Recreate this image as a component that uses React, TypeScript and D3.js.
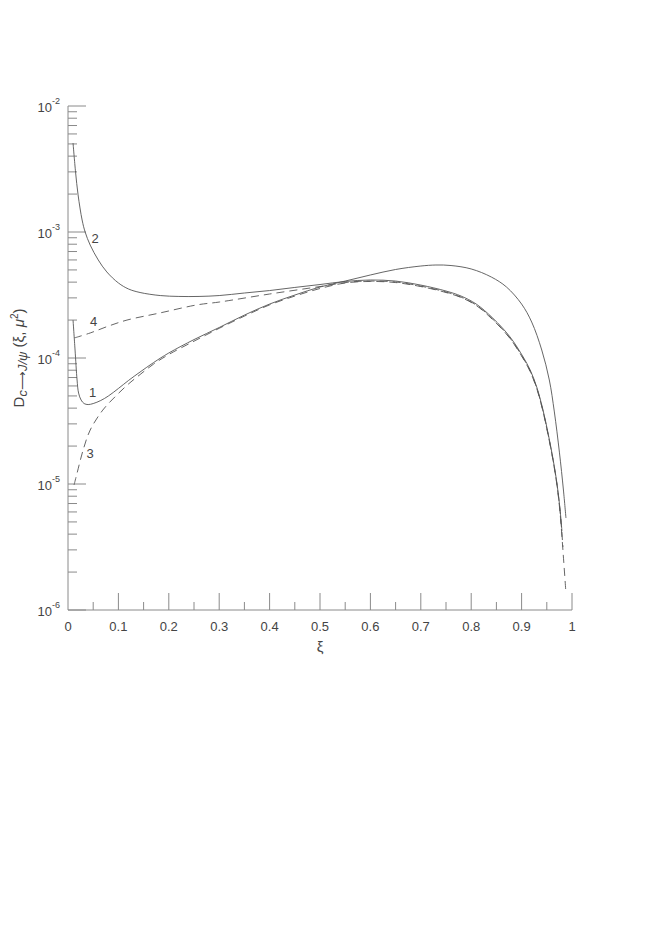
import React from "react";
import * as d3 from "d3";

const xiTicksMajor = [0.1, 0.2, 0.3, 0.4, 0.5, 0.6, 0.7, 0.8, 0.9, 1.0];
const xiTicksMinor = [0.05, 0.15, 0.25, 0.35, 0.45, 0.55, 0.65, 0.75, 0.85, 0.95];
const xTickLabels = ["0", "0.1", "0.2", "0.3", "0.4", "0.5", "0.6", "0.7", "0.8", "0.9", "1"];
const yDecades = [-6, -5, -4, -3, -2];

const curve1Xi = [0.01, 0.014, 0.018, 0.021, 0.026, 0.032, 0.04, 0.05, 0.065, 0.08, 0.1, 0.12, 0.143, 0.17, 0.2, 0.25, 0.3, 0.35, 0.4, 0.45, 0.5, 0.55, 0.6, 0.65, 0.7, 0.73, 0.76, 0.8, 0.84, 0.87, 0.9, 0.92, 0.94, 0.955, 0.965, 0.975, 0.983, 0.988];
const curve1Val = [2.0e-4, 1.157e-4, 6.69e-5, 5.27e-5, 4.64e-5, 4.35e-5, 4.27e-5, 4.35e-5, 4.6e-5, 4.99e-5, 5.73e-5, 6.63e-5, 7.74e-5, 9.21e-5, 1.096e-4, 1.40e-4, 1.746e-4, 2.19e-4, 2.68e-4, 3.16e-4, 3.66e-4, 4.08e-4, 4.56e-4, 5.04e-4, 5.37e-4, 5.47e-4, 5.42e-4, 5.09e-4, 4.39e-4, 3.66e-4, 2.68e-4, 1.93e-4, 1.157e-4, 6.69e-5, 3.73e-5, 1.79e-5, 8.96e-6, 5.37e-6];

const curve2Xi = [0.01, 0.015, 0.02, 0.028, 0.034, 0.044, 0.06, 0.077, 0.1, 0.12, 0.143, 0.183, 0.22, 0.26, 0.3, 0.35, 0.4, 0.45, 0.5, 0.55, 0.6, 0.65, 0.7, 0.75, 0.78, 0.81, 0.843, 0.877, 0.903, 0.917, 0.93, 0.9425, 0.952, 0.962, 0.97, 0.976, 0.98];
const curve2Val = [5.08e-3, 2.99e-3, 1.97e-3, 1.245e-3, 1.0e-3, 7.88e-4, 6.0e-4, 4.82e-4, 3.94e-4, 3.53e-4, 3.31e-4, 3.13e-4, 3.08e-4, 3.08e-4, 3.13e-4, 3.28e-4, 3.43e-4, 3.63e-4, 3.83e-4, 4.05e-4, 4.16e-4, 4.08e-4, 3.79e-4, 3.4e-4, 3.1e-4, 2.68e-4, 2.07e-4, 1.47e-4, 1.02e-4, 8.03e-5, 5.89e-5, 3.86e-5, 2.59e-5, 1.61e-5, 1.02e-5, 6.45e-6, 4.24e-6];

const curve3Xi = [0.012, 0.018, 0.03, 0.044, 0.069, 0.097, 0.12, 0.143, 0.17, 0.2, 0.25, 0.3, 0.35, 0.4, 0.45, 0.5, 0.55, 0.6, 0.65, 0.7, 0.75, 0.78, 0.81, 0.843, 0.877, 0.903, 0.917, 0.93, 0.9425, 0.952, 0.962, 0.97, 0.976, 0.982, 0.988];
const curve3Val = [9.82e-6, 1.22e-5, 1.86e-5, 2.68e-5, 3.86e-5, 5.09e-5, 6.22e-5, 7.39e-5, 8.96e-5, 1.066e-4, 1.36e-4, 1.72e-4, 2.15e-4, 2.64e-4, 3.1e-4, 3.56e-4, 3.94e-4, 4.05e-4, 3.97e-4, 3.69e-4, 3.31e-4, 3.02e-4, 2.61e-4, 2.01e-4, 1.43e-4, 9.9e-5, 7.8e-5, 5.73e-5, 3.76e-5, 2.52e-5, 1.57e-5, 9.9e-6, 6.1e-6, 2.98e-6, 1.36e-6];

const curve4Xi = [0.012, 0.044, 0.08, 0.117, 0.183, 0.256, 0.3, 0.4, 0.5, 0.56, 0.6, 0.65, 0.7, 0.75, 0.78, 0.81, 0.843, 0.877, 0.903, 0.917, 0.93, 0.9425, 0.952, 0.962, 0.97, 0.976, 0.982];
const curve4Val = [1.44e-4, 1.58e-4, 1.79e-4, 2.0e-4, 2.28e-4, 2.64e-4, 2.78e-4, 3.22e-4, 3.69e-4, 4.01e-4, 4.08e-4, 4.01e-4, 3.72e-4, 3.34e-4, 3.04e-4, 2.63e-4, 2.03e-4, 1.44e-4, 1.0e-4, 7.9e-5, 5.78e-5, 3.79e-5, 2.54e-5, 1.58e-5, 1.0e-5, 6.3e-6, 3.16e-6];

const curveLabels = [
  { text: "1", xi: 0.0486, v: 4.9e-5 },
  { text: "2", xi: 0.0536, v: 8.18e-4 },
  { text: "3", xi: 0.0437, v: 1.61e-5 },
  { text: "4", xi: 0.0506, v: 1.79e-4 },
];

const FONT = "'Liberation Sans', Arial, Helvetica, sans-serif";
const AXIS = "#8a8a8a";
const LINE = "#555";
const TEXT = "#444";

export default function App() {
  const x = d3.scaleLinear().domain([0, 1]).range([68, 572]);
  const y = d3.scaleLog().domain([1e-6, 1e-2]).range([610, 106]);

  const line = d3
    .line<[number, number]>()
    .x((d) => x(d[0]))
    .y((d) => y(d[1]))
    .curve(d3.curveCatmullRom.alpha(0.5));

  const mk = (xs: number[], vs: number[]) => line(xs.map((v, i) => [v, vs[i]] as [number, number])) || "";

  const minorY: number[] = [];
  yDecades.slice(0, -1).forEach((e) => {
    for (let m = 2; m <= 9; m++) minorY.push(m * Math.pow(10, e));
  });

  return (
    <svg width={664} height={951} style={{ position: "absolute", left: 0, top: 0, background: "#fff" }} fontFamily={FONT}>
      <line x1={x(0)} y1={y(1e-6)} x2={x(0)} y2={y(1e-2)} stroke={AXIS} strokeWidth={1} />
      <line x1={x(0)} y1={y(1e-6)} x2={x(1)} y2={y(1e-6)} stroke={AXIS} strokeWidth={1} />
      {yDecades.map((e) => (
        <line key={"yd" + e} x1={x(0)} x2={x(0) + 18} y1={y(Math.pow(10, e))} y2={y(Math.pow(10, e))} stroke={AXIS} strokeWidth={1} />
      ))}
      {minorY.map((v, i) => (
        <line key={"ym" + i} x1={x(0)} x2={x(0) + 9} y1={y(v)} y2={y(v)} stroke={AXIS} strokeWidth={1} />
      ))}
      {xiTicksMajor.map((t) => (
        <line key={"xM" + t} x1={x(t)} x2={x(t)} y1={y(1e-6)} y2={y(1e-6) - 17} stroke={AXIS} strokeWidth={1} />
      ))}
      {xiTicksMinor.map((t) => (
        <line key={"xm" + t} x1={x(t)} x2={x(t)} y1={y(1e-6)} y2={y(1e-6) - 8} stroke={AXIS} strokeWidth={1} />
      ))}
      {yDecades.map((e) => (
        <text key={"yl" + e} x={x(0) - 8} y={y(Math.pow(10, e)) + 6} fontSize={13} fill={TEXT} textAnchor="end">
          <tspan>10</tspan>
          <tspan fontSize={9} dy={-8}>{"-" + Math.abs(e)}</tspan>
        </text>
      ))}
      {xTickLabels.map((s, i) => (
        <text key={"xl" + i} x={x(i / 10)} y={631} fontSize={13} fill={TEXT} textAnchor="middle">
          {s}
        </text>
      ))}
      <text x={x(0.5)} y={652} fontSize={15} fill={TEXT} textAnchor="middle">ξ</text>
      <text transform="translate(24,358) rotate(-90)" fontSize={15} fill={TEXT} textAnchor="middle">
        <tspan>D</tspan>
        <tspan fontSize={13} fontStyle="italic" dy={3}>c</tspan>
        <tspan fontSize={13}>⟶</tspan>
        <tspan fontSize={13} fontStyle="italic">J/ψ</tspan>
        <tspan dy={-3}> (ξ, </tspan>
        <tspan fontStyle="italic">μ</tspan>
        <tspan fontSize={10} dy={-6}>2</tspan>
        <tspan dy={6}>)</tspan>
      </text>
      <path d={mk(curve1Xi, curve1Val)} fill="none" stroke={LINE} strokeWidth={0.9} />
      <path d={mk(curve2Xi, curve2Val)} fill="none" stroke={LINE} strokeWidth={0.9} />
      <path d={mk(curve3Xi, curve3Val)} fill="none" stroke={LINE} strokeWidth={0.9} strokeDasharray="8,5" />
      <path d={mk(curve4Xi, curve4Val)} fill="none" stroke={LINE} strokeWidth={0.9} strokeDasharray="8,5" />
      {curveLabels.map((l) => (
        <text key={l.text} x={x(l.xi)} y={y(l.v)} fontSize={13} fill={TEXT} textAnchor="middle">
          {l.text}
        </text>
      ))}
    </svg>
  );
}
